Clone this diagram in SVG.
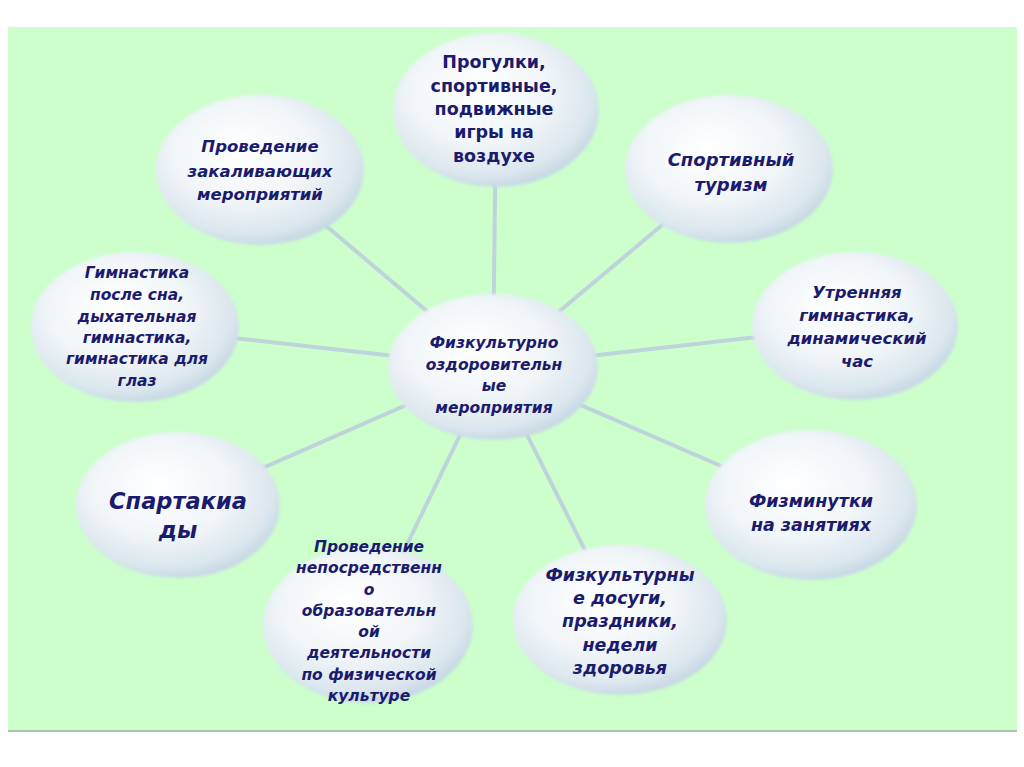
<svg xmlns="http://www.w3.org/2000/svg" width="1024" height="767" viewBox="0 0 1024 767">
<defs>
<radialGradient id="bub" cx="0.44" cy="0.4" r="0.64" fx="0.4" fy="0.36">
<stop offset="0" stop-color="#ffffff"/>
<stop offset="0.5" stop-color="#f2f6f9"/>
<stop offset="0.82" stop-color="#dce7ee"/>
<stop offset="1" stop-color="#c0d4e1"/>
</radialGradient>
<filter id="soft" x="-5%" y="-5%" width="110%" height="110%"><feGaussianBlur stdDeviation="1.5"/></filter>
</defs>
<style>
.bub{fill:url(#bub);filter:url(#soft)}
.con line{stroke:#bfd3dc;stroke-width:4;stroke-linecap:round}
text{fill:#1b1b6e;font-family:"DejaVu Sans","Liberation Sans",sans-serif;font-weight:bold;font-style:italic;text-anchor:middle}
.up{font-style:normal}
</style>
<rect x="0" y="0" width="1024" height="767" fill="#ffffff"/>
<rect x="8" y="27" width="1009" height="704" fill="#ccffcc"/>
<line x1="8" y1="731" x2="1017" y2="731" stroke="#a9c6b6" stroke-width="2"/>
<g id="connectors" class="con">
<line x1="493" y1="367" x2="496" y2="110"/>
<line x1="493" y1="367" x2="260" y2="170"/>
<line x1="493" y1="367" x2="729" y2="169"/>
<line x1="493" y1="367" x2="135" y2="327"/>
<line x1="493" y1="367" x2="855" y2="326"/>
<line x1="493" y1="367" x2="178" y2="505"/>
<line x1="493" y1="367" x2="811" y2="505"/>
<line x1="493" y1="367" x2="368" y2="625"/>
<line x1="493" y1="367" x2="620" y2="620"/>
</g>
<g id="n-walks">
<ellipse class="bub" cx="496" cy="110" rx="103" ry="77"/>
<text class="up" font-size="17.5"><tspan x="494" y="68">Прогулки,</tspan><tspan x="494" y="92">спортивные,</tspan><tspan x="494" y="115">подвижные</tspan><tspan x="494" y="138">игры на</tspan><tspan x="494" y="162">воздухе</tspan></text>
</g>
<g id="n-harden">
<ellipse class="bub" cx="260" cy="170" rx="104" ry="75"/>
<text font-size="16.5"><tspan x="260" y="152">Проведение</tspan><tspan x="260" y="177">закаливающих</tspan><tspan x="260" y="200">мероприятий</tspan></text>
</g>
<g id="n-tourism">
<ellipse class="bub" cx="729" cy="169" rx="104" ry="74"/>
<text font-size="18"><tspan x="731" y="166">Спортивный</tspan><tspan x="731" y="191">туризм</tspan></text>
</g>
<g id="n-gym">
<ellipse class="bub" cx="135" cy="327" rx="104" ry="75"/>
<text font-size="15.5"><tspan x="137" y="278">Гимнастика</tspan><tspan x="137" y="300">после сна,</tspan><tspan x="137" y="322">дыхательная</tspan><tspan x="137" y="343">гимнастика,</tspan><tspan x="137" y="364">гимнастика для</tspan><tspan x="137" y="386">глаз</tspan></text>
</g>
<g id="n-morning">
<ellipse class="bub" cx="855" cy="326" rx="103" ry="74"/>
<text font-size="16.5"><tspan x="857" y="298">Утренняя</tspan><tspan x="857" y="321">гимнастика,</tspan><tspan x="857" y="344">динамический</tspan><tspan x="857" y="367">час</tspan></text>
</g>
<g id="n-center">
<ellipse class="bub" cx="493" cy="367" rx="105" ry="73"/>
<text font-size="15.5"><tspan x="494" y="348">Физкультурно</tspan><tspan x="494" y="370">оздоровительн</tspan><tspan x="494" y="391">ые</tspan><tspan x="494" y="413">мероприятия</tspan></text>
</g>
<g id="n-sparta">
<ellipse class="bub" cx="178" cy="505" rx="102" ry="73"/>
<text font-size="22.5"><tspan x="178" y="509">Спартакиа</tspan><tspan x="178" y="538">ды</tspan></text>
</g>
<g id="n-minutes">
<ellipse class="bub" cx="811" cy="505" rx="106" ry="75"/>
<text font-size="17.5"><tspan x="811" y="507">Физминутки</tspan><tspan x="811" y="531">на занятиях</tspan></text>
</g>
<g id="n-lessons">
<ellipse class="bub" cx="368" cy="625" rx="105" ry="78"/>
<text font-size="15.5"><tspan x="369" y="552">Проведение</tspan><tspan x="369" y="573">непосредственн</tspan><tspan x="369" y="595">о</tspan><tspan x="369" y="616">образовательн</tspan><tspan x="369" y="637">ой</tspan><tspan x="369" y="658">деятельности</tspan><tspan x="369" y="680">по физической</tspan><tspan x="369" y="701">культуре</tspan></text>
</g>
<g id="n-leisure">
<ellipse class="bub" cx="620" cy="620" rx="107" ry="75"/>
<text font-size="17.5"><tspan x="620" y="581">Физкультурны</tspan><tspan x="620" y="604">е досуги,</tspan><tspan x="620" y="627">праздники,</tspan><tspan x="620" y="651">недели</tspan><tspan x="620" y="674">здоровья</tspan></text>
</g>
</svg>
